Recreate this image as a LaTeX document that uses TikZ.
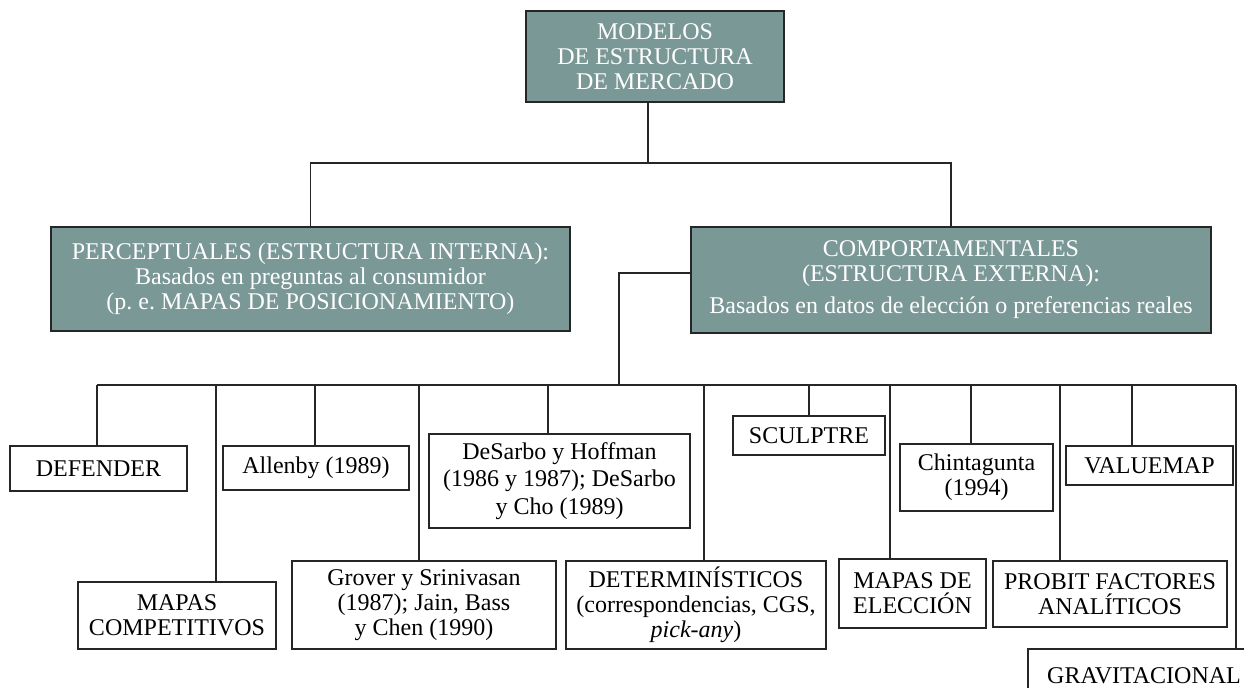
\documentclass[tikz,border=0pt]{standalone}
\usepackage{fontspec}
\setmainfont{Liberation Serif}
\usetikzlibrary{positioning}
\definecolor{verdegris}{RGB}{122,152,150}
\frenchspacing

\begin{document}
\begin{tikzpicture}[x=0.5pt,y=-0.5pt,line width=0.55pt]
    \tikzstyle{hoja}=[draw=black!85,fill=white,rectangle,align=center,inner sep=0,font=\fontsize{12}{12.5}\selectfont]
    \tikzstyle{raiz}=[hoja,fill=verdegris,text=white]
    \tikzstyle{linea}=[draw=black!85]
    \useasboundingbox (0,0) rectangle (1244,688);
    \clip (0,0) rectangle (1244,688);
    {
        % niveles superiores
        \node[raiz,minimum width=129pt,minimum height=45.5pt] (modelos) at (655,56.5)
            {MODELOS\\DE ESTRUCTURA\\DE MERCADO};
        \node[raiz,minimum width=259.5pt,minimum height=52pt] (percep) at (310.5,279)
            {PERCEPTUALES (ESTRUCTURA INTERNA):\\Basados en preguntas al consumidor\\(p. e. MAPAS DE POSICIONAMIENTO)};
        \node[raiz,minimum width=260pt,minimum height=53pt] (comport) at (951,280)
            {COMPORTAMENTALES\\(ESTRUCTURA EXTERNA):\\[3.5pt]Basados en datos de elecci\'on o preferencias reales};

        \coordinate (bus1) at (648,163);
        \coordinate (bus2) at (619,385);
        \coordinate (busl) at (97,385);
        \coordinate (busr) at (1236,385);

        \draw[linea] (bus1 |- modelos.south) -- (bus1);
        \draw[linea] (percep.north) |- (bus1) -| (comport.north);
        \draw[linea] ([yshift=3.5pt]comport.west) -| (bus2);
        \draw[linea] (busl) -- (busr);

        % modelos comportamentales
        \node[hoja,minimum width=88.5pt,minimum height=22.5pt] (defender) at (98.5,468.5) {DEFENDER};
        \node[hoja,minimum width=99pt,minimum height=33.5pt] (mapcomp) at (177,615.5) {MAPAS\\COMPETITIVOS};
        \node[hoja,minimum width=93pt,minimum height=22pt] (allenby) at (316,468) {Allenby (1989)};
        \node[hoja,minimum width=132pt,minimum height=44pt] (grover) at (424,605)
            {Grover y Srinivasan\\(1987); Jain, Bass\\y Chen (1990)};
        \node[hoja,minimum width=130.5pt,minimum height=47pt] (desarbo) at (559.5,481)
            {DeSarbo y Hoffman\\[1.3pt](1986 y 1987); DeSarbo\\[1.3pt]y Cho (1989)};
        \node[hoja,minimum width=130pt,minimum height=44pt] (determ) at (696,605)
            {DETERMIN\'ISTICOS\\(correspondencias, CGS,\\\textit{pick-any})};
        \node[hoja,minimum width=76pt,minimum height=19.5pt] (sculptre) at (809,435.5) {SCULPTRE};
        \node[hoja,minimum width=73.5pt,minimum height=34.5pt] (mapelec) at (912.5,593.5) {MAPAS DE\\ELECCI\'ON};
        \node[hoja,minimum width=76.5pt,minimum height=33.5pt] (chinta) at (976.5,477.5) {Chintagunta\\(1994)};
        \node[hoja,minimum width=117pt,minimum height=33pt] (probit) at (1110,594) {PROBIT FACTORES\\ANAL\'ITICOS};
        \node[hoja,minimum width=83.5pt,minimum height=19.5pt] (valuemap) at (1149.5,465.5) {VALUEMAP};
        \node[hoja,minimum width=116pt,minimum height=27pt] (gravit) at (1144,676) {GRAVITACIONAL};

        \foreach \x/\n in {97/defender,216/mapcomp,315/allenby,419/grover,548/desarbo,704/determ,
                           809/sculptre,890/mapelec,971/chinta,1060/probit,1132/valuemap,1236/gravit}
            \draw[linea] (\x,385) coordinate (t) -- (t |- \n.north);
    }
\end{tikzpicture}
\end{document}
